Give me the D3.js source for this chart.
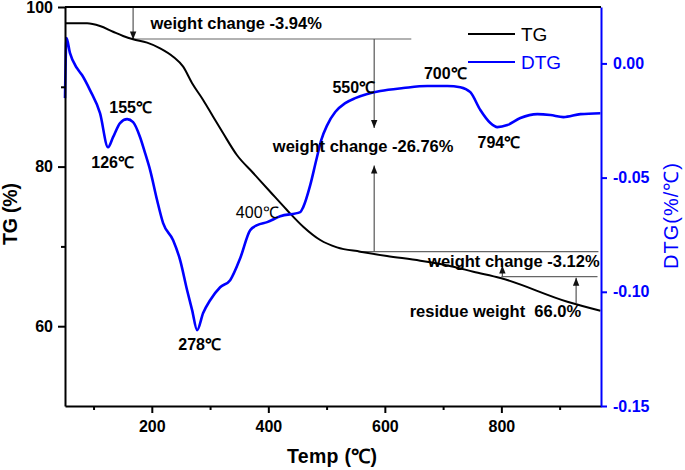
<!DOCTYPE html>
<html><head><meta charset="utf-8">
<script src="https://cdn.jsdelivr.net/npm/d3@7"></script>
<style>
body{margin:0;background:#fff}
text{font-family:"Liberation Sans",Arial,Helvetica,sans-serif}
</style>
</head><body>
<svg id="c" width="685" height="470"></svg>
<script>
// ---------- DATA ----------
const tgTemp   = [51, 89, 111, 133.5, 150.7, 167.9, 191.9, 214.3, 236.6, 253.8, 269.2, 288.1, 305.3, 322.5, 346, 374, 403.2, 431.9, 459.9, 489.1, 517.8, 557.8, 603.6, 660.8, 717.5, 751.9, 798.3, 913.3, 970];
const tgValues = [97.96, 97.96, 97.62, 96.90, 96.37, 95.95, 95.53, 94.82, 93.77, 92.52, 90.44, 88.35, 86.25, 84.17, 81.45, 79.20, 76.85, 74.56, 72.47, 70.80, 69.88, 69.34, 68.80, 68.21, 67.46, 66.83, 66.04, 63.07, 61.94];

const dtgTemp   = [51, 53.6, 59.6, 71.6, 80.2, 93.9, 111.1, 124.9, 133.5, 145.5, 157.6, 167.9, 179.9, 188.5, 197.1, 209.1, 219.4, 236.6, 248.6, 260.6, 269.2, 277.8, 288.1, 300.1, 317.3, 334.5, 351.7, 368.8, 380.9, 398, 420.4, 454.7, 459.9, 471.9, 482.2, 490.8, 501.1, 514.8, 532, 549.2, 569.8, 592.1, 631.6, 672.8, 707.2, 729.5, 746.7, 763.9, 781.1, 793.1, 810.3, 832.6, 861.8, 884.1, 906.5, 935.7, 970];
const dtgValues = [-0.0152, 0.0111, 0.0045, -0.0021, -0.0051, -0.0117, -0.0218, -0.0367, -0.0323, -0.0261, -0.0244, -0.0257, -0.0323, -0.0393, -0.0467, -0.0599, -0.0699, -0.0774, -0.0861, -0.0993, -0.1080, -0.1168, -0.1093, -0.1037, -0.0980, -0.0949, -0.0853, -0.0730, -0.0708, -0.0695, -0.0669, -0.0651, -0.0629, -0.0533, -0.0424, -0.0336, -0.0270, -0.0213, -0.0174, -0.0152, -0.0134, -0.0121, -0.0108, -0.0099, -0.0099, -0.0104, -0.0126, -0.0204, -0.0261, -0.0279, -0.0270, -0.0239, -0.0222, -0.0226, -0.0235, -0.0222, -0.0218];

const xTickValues   = [200, 400, 600, 800];
const xMinorTicks   = [100, 300, 500, 700, 900];
const tgTickValues  = [60, 80, 100];
const tgMinorTicks  = [70, 90];
const dtgTickValues = [0.00, -0.05, -0.10, -0.15];

// peak labels: text, temperature, TG-scale height of baseline, bold?
const peakText = ["155℃", "126℃", "278℃", "400℃", "550℃", "700℃", "794℃"];
const peakT    = [163.6, 132.7, 282.1, 380.9, 546.6, 703.8, 795.7];
const peakY    = [86.68, 79.79, 57.02, 73.52, 89.19, 90.94, 82.37];
const peakBold = [true, true, true, false, true, true, true];

// weight-change annotations
const noteText = ["weight change -3.94%", "weight change -26.76%", "weight change -3.12%", "residue weight  66.0%"];
const noteT    = [344.8, 562.7, 821.4, 789.7];
const noteY    = [97.24, 81.83, 67.42, 61.19];

// guide lines [t1, v1, t2, v2] in TG units
const guideLines = [[167.9, 95.99, 645.4, 95.99], [554.3, 69.34, 966.6, 69.34], [800, 66.20, 965, 66.20]];
// arrows [t, fromV, toV]
const arrows = [[167.9, 100, 95.93], [581.7, 95.99, 84.84], [581.7, 69.34, 80.14], [801.7, 66.20, 67.60], [928.3, 62.91, 66.07]];

// ---------- CHART ----------
const svg = d3.select("#c");
const L = 65, R = 601, T = 7, B = 406;
const x = d3.scaleLinear().domain([51, 971]).range([L, R]);
const yTG = d3.scaleLinear().domain([50, 100]).range([B, T]);
const yDTG = d3.scaleLinear().domain([-0.15, 0.0247]).range([B, T]);
const blue = "#0000ff";

// markers
const defs = svg.append("defs");
defs.append("marker").attr("id", "ah").attr("viewBox", "0 0 10 10")
  .attr("refX", 10).attr("refY", 5).attr("markerWidth", 9).attr("markerHeight", 8)
  .attr("markerUnits", "userSpaceOnUse").attr("orient", "auto")
  .append("path").attr("d", "M0,1 L10,5 L0,9 Z").attr("fill", "#111");

// guide lines
svg.append("g").selectAll("line").data(guideLines).join("line")
  .attr("x1", d => x(d[0])).attr("y1", d => yTG(d[1]))
  .attr("x2", d => x(d[2])).attr("y2", d => yTG(d[3]))
  .attr("stroke", "#666").attr("stroke-width", 1.2);

svg.append("g").selectAll("line").data(arrows).join("line")
  .attr("x1", d => x(d[0])).attr("y1", d => yTG(d[1]))
  .attr("x2", d => x(d[0])).attr("y2", d => yTG(d[2]))
  .attr("stroke", "#555").attr("stroke-width", 1.2)
  .attr("marker-end", "url(#ah)");

// curves
const tgData = tgTemp.map((t, i) => [t, tgValues[i]]);
const dtgData = dtgTemp.map((t, i) => [t, dtgValues[i]]);
svg.append("path").datum(tgData)
  .attr("d", d3.line().x(d => x(d[0])).y(d => yTG(d[1])).curve(d3.curveMonotoneX))
  .attr("fill", "none").attr("stroke", "#000").attr("stroke-width", 2);
svg.append("path").datum(dtgData)
  .attr("d", d3.line().x(d => x(d[0])).y(d => yDTG(d[1])).curve(d3.curveMonotoneX))
  .attr("fill", "none").attr("stroke", blue).attr("stroke-width", 2.6);

// axes
const gx = svg.append("g").attr("transform", `translate(0,${B})`)
  .call(d3.axisBottom(x).tickValues(xTickValues).tickSize(7).tickSizeOuter(0).tickPadding(8));
svg.append("g").attr("transform", `translate(0,${B})`)
  .call(d3.axisBottom(x).tickValues(xMinorTicks).tickSize(4).tickSizeOuter(0).tickFormat(""))
  .call(g => g.select(".domain").remove());
const gl = svg.append("g").attr("transform", `translate(${L},0)`)
  .call(d3.axisLeft(yTG).tickValues(tgTickValues).tickSize(7).tickSizeOuter(0).tickPadding(5));
svg.append("g").attr("transform", `translate(${L},0)`)
  .call(d3.axisLeft(yTG).tickValues(tgMinorTicks).tickSize(4).tickSizeOuter(0).tickFormat(""))
  .call(g => g.select(".domain").remove());
const gr = svg.append("g").attr("transform", `translate(${R},0)`)
  .call(d3.axisRight(yDTG).tickValues(dtgTickValues).tickSize(6).tickSizeOuter(0).tickPadding(6).tickFormat(d3.format(".2f")));

[gx, gl].forEach(g => {
  g.selectAll("path,line").attr("stroke", "#000").attr("stroke-width", 2);
  g.selectAll("text").attr("font-size", 16).attr("font-weight", "bold").attr("fill", "#000")
    .style("font-family", '"Liberation Sans",Arial,sans-serif');
});
svg.selectAll("g line").filter(function(){return !this.getAttribute("stroke-width")}).attr("stroke-width", 2).attr("stroke", "#000");
gr.selectAll("path,line").attr("stroke", blue).attr("stroke-width", 2);
gr.selectAll("text").attr("font-size", 16).attr("font-weight", "bold").attr("fill", blue)
  .text(d => d3.format(".2f")(d).replace("−", "-"));

// top border
svg.append("line").attr("x1", L).attr("x2", R).attr("y1", T).attr("y2", T)
  .attr("stroke", "#000").attr("stroke-width", 2);

// peak labels
svg.append("g").selectAll("text").data(peakText).join("text")
  .attr("x", (d, i) => x(peakT[i])).attr("y", (d, i) => yTG(peakY[i]))
  .attr("text-anchor", "middle").attr("font-size", 16)
  .attr("font-weight", (d, i) => peakBold[i] ? "bold" : "normal")
  .text(d => d);

// notes
svg.append("g").selectAll("text").data(noteText).join("text")
  .attr("x", (d, i) => x(noteT[i])).attr("y", (d, i) => yTG(noteY[i]))
  .attr("text-anchor", "middle").attr("font-size", 16.5).attr("font-weight", "bold")
  .attr("xml:space", "preserve").style("white-space", "pre")
  .text(d => d);

// legend
const legend = [["TG", "#000", 34], ["DTG", blue, 62]];
legend.forEach(([t, c, yy]) => {
  svg.append("line").attr("x1", 468).attr("x2", 515).attr("y1", yy).attr("y2", yy)
    .attr("stroke", c).attr("stroke-width", 2);
  svg.append("text").attr("x", 521).attr("y", yy + 7).attr("font-size", 19).attr("fill", c).text(t);
});

// axis titles
svg.append("text").attr("transform", "translate(17,214) rotate(-90)")
  .attr("text-anchor", "middle").attr("font-size", 19.5).attr("font-weight", "bold")
  .attr("textLength", 62).attr("lengthAdjust", "spacing").text("TG (%)");
svg.append("text").attr("x", 332).attr("y", 463)
  .attr("text-anchor", "middle").attr("font-size", 19.5).attr("font-weight", "bold")
  .attr("textLength", 90).attr("lengthAdjust", "spacing").text("Temp (℃)");
svg.append("text").attr("transform", "translate(678,216) rotate(-90)")
  .attr("text-anchor", "middle").attr("font-size", 20).attr("fill", blue)
  .attr("textLength", 106).attr("lengthAdjust", "spacing").text("DTG(%/℃)");
</script>
</body></html>
